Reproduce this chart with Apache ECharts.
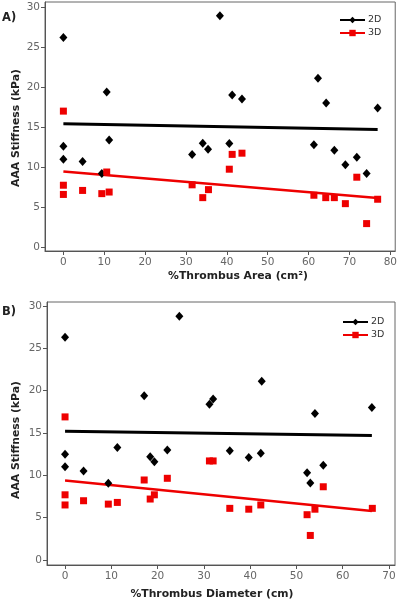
<!DOCTYPE html>
<html><head><meta charset="utf-8">
<script src="https://cdn.jsdelivr.net/npm/echarts@6/dist/echarts.min.js"></script>
<style>html,body{margin:0;padding:0;background:#fff}#c{width:400px;height:610px}</style>
</head><body><div id="c"></div>
<script>
// Panel A: %Thrombus Area
const areaX2D = [0, 0, 0, 4.7, 9.4, 10.6, 11.2, 31.5, 34.1, 35.4, 38.3, 40.6, 41.3, 43.7, 61.3, 62.3, 64.3, 66.3, 69.0, 71.8, 74.2, 76.9];
const areaY2D = [26.2, 12.6, 11.0, 10.7, 9.2, 19.4, 13.4, 11.6, 13.0, 12.25, 28.9, 12.96, 19.0, 18.5, 12.8, 21.1, 18.0, 12.1, 10.3, 11.25, 9.2, 17.4];
const areaX3D = [0, 0, 0, 4.7, 9.4, 10.6, 11.2, 31.5, 34.1, 35.5, 40.6, 41.3, 43.7, 61.3, 64.2, 66.3, 69.0, 71.8, 74.2, 76.9];
const areaY3D = [17.0, 7.75, 6.6, 7.1, 6.7, 9.4, 6.9, 7.8, 6.2, 7.2, 9.75, 11.6, 11.75, 6.5, 6.2, 6.2, 5.45, 8.75, 2.96, 6.0];
const areaFit2D = [[0, 15.42], [76.9, 14.7]];
const areaFit3D = [[0, 9.45], [76.9, 6.15]];

// Panel B: %Thrombus Diameter
const diamX2D = [0, 0, 0, 4.0, 9.35, 11.3, 17.1, 18.4, 19.3, 22.1, 24.7, 31.2, 32.0, 35.6, 39.7, 42.3, 42.5, 52.3, 53.0, 54.0, 55.8, 66.3];
const diamY2D = [26.3, 12.5, 11.0, 10.5, 9.05, 13.3, 19.4, 12.2, 11.6, 13.0, 28.8, 18.4, 19.0, 12.9, 12.1, 12.6, 21.1, 10.3, 9.1, 17.3, 11.2, 18.0];
const diamX3D = [0, 0, 0, 4.0, 9.35, 11.3, 17.1, 18.4, 19.3, 22.1, 31.2, 32.0, 35.6, 39.7, 42.3, 52.3, 53.0, 54.0, 55.8, 66.4];
const diamY3D = [16.9, 7.7, 6.5, 7.0, 6.6, 6.8, 9.45, 7.2, 7.7, 9.65, 11.7, 11.7, 6.1, 6.0, 6.5, 5.35, 2.9, 6.0, 8.65, 6.1];
const diamFit2D = [[0, 15.2], [66.3, 14.7]];
const diamFit3D = [[0, 9.4], [66.3, 5.8]];

const yTicks = [0, 5, 10, 15, 20, 25, 30];
const xTicksA = [0, 10, 20, 30, 40, 50, 60, 70, 80];
const xTicksB = [0, 10, 20, 30, 40, 50, 60, 70];

const zip = (xs, ys) => xs.map((x, i) => [x, ys[i]]);
const FONT = 'DejaVu Sans';
const gray = '#555';

function xAxis(gi, min, max, ticks) {
  return {
    type: 'value', gridIndex: gi, min, max,
    splitLine: { show: false },
    axisLine: { show: true, onZero: false, lineStyle: { color: gray, width: 1 } },
    axisTick: { show: true, length: 4, customValues: ticks, lineStyle: { color: gray } },
    axisLabel: { customValues: ticks, color: '#666', fontFamily: FONT, fontSize: 10.5, margin: 6 }
  };
}
function yAxis(gi, min, max) {
  return {
    type: 'value', gridIndex: gi, min, max,
    splitLine: { show: false },
    axisLine: { show: true, onZero: false, lineStyle: { color: gray, width: 1 } },
    axisTick: { show: true, length: 4, customValues: yTicks, lineStyle: { color: gray } },
    axisLabel: { customValues: yTicks, color: '#666', fontFamily: FONT, fontSize: 10.5, margin: 5 }
  };
}
const diamondSym = { symbol: 'diamond', symbolSize: [8, 9], itemStyle: { color: '#000', opacity: 1 } };
const squareSym = { symbol: 'rect', symbolSize: 7, itemStyle: { color: '#ee0000', opacity: 1 } };

function seriesFor(gi, s2, s3, f2, f3) {
  return [
    { name: '2D', type: 'line', xAxisIndex: gi, yAxisIndex: gi, data: f2, ...diamondSym, showSymbol: false,
      lineStyle: { color: '#000', width: 3 }, silent: true, z: 3 },
    { name: '3D', type: 'line', xAxisIndex: gi, yAxisIndex: gi, data: f3, ...squareSym, showSymbol: false,
      lineStyle: { color: '#ee0000', width: 2.5 }, silent: true, z: 3 },
    { name: '2D', type: 'scatter', xAxisIndex: gi, yAxisIndex: gi, data: s2, ...diamondSym, z: 4 },
    { name: '3D', type: 'scatter', xAxisIndex: gi, yAxisIndex: gi, data: s3, ...squareSym, z: 4 }
  ];
}
function legendAt(left, top) {
  return {
    left, top, orient: 'vertical', itemWidth: 25, itemHeight: 8, itemGap: 3,
    data: ['2D', '3D'], selectedMode: false,
    textStyle: { fontFamily: FONT, fontSize: 9.5, color: '#333', padding: [0, 0, 0, -2] }
  };
}
const titleStyle = { fontFamily: FONT, fontWeight: 'bold', fontSize: 10.8, fill: '#222' };

const chart = echarts.init(document.getElementById('c'), null, { renderer: 'canvas' });
chart.setOption({
  animation: false,
  backgroundColor: '#fff',
  grid: [
    { left: 45, top: 2, width: 351, height: 249, show: true, borderColor: '#666', borderWidth: 1 },
    { left: 47, top: 302, width: 348, height: 263, show: true, borderColor: '#666', borderWidth: 1 }
  ],
  xAxis: [xAxis(0, -4.5, 81.2, xTicksA), xAxis(1, -3.9, 71.3, xTicksB)],
  yAxis: [yAxis(0, -0.46, 30.62), yAxis(1, -0.59, 30.47)],
  legend: [legendAt(334, 10), legendAt(337, 312)],
  series: [
    ...seriesFor(0, zip(areaX2D, areaY2D), zip(areaX3D, areaY3D), areaFit2D, areaFit3D),
    ...seriesFor(1, zip(diamX2D, diamY2D), zip(diamX3D, diamY3D), diamFit2D, diamFit3D)
  ],
  graphic: [
    { type: 'text', left: 2, top: 12, style: { text: 'A)', ...titleStyle, fontSize: 11.5 } },
    { type: 'text', left: 2, top: 306, style: { text: 'B)', ...titleStyle, fontSize: 11.5 } },
    { type: 'text', x: 16, y: 128, rotation: Math.PI / 2, style: { text: 'AAA Stiffness (kPa)', ...titleStyle, align: 'center', verticalAlign: 'middle' } },
    { type: 'text', x: 16, y: 440, rotation: Math.PI / 2, style: { text: 'AAA Stiffness (kPa)', ...titleStyle, align: 'center', verticalAlign: 'middle' } },
    { type: 'text', x: 238, y: 276, style: { text: '%Thrombus Area (cm²)', ...titleStyle, align: 'center', verticalAlign: 'middle' } },
    { type: 'text', x: 212, y: 594, style: { text: '%Thrombus Diameter (cm)', ...titleStyle, align: 'center', verticalAlign: 'middle' } }
  ]
});
</script></body></html>
